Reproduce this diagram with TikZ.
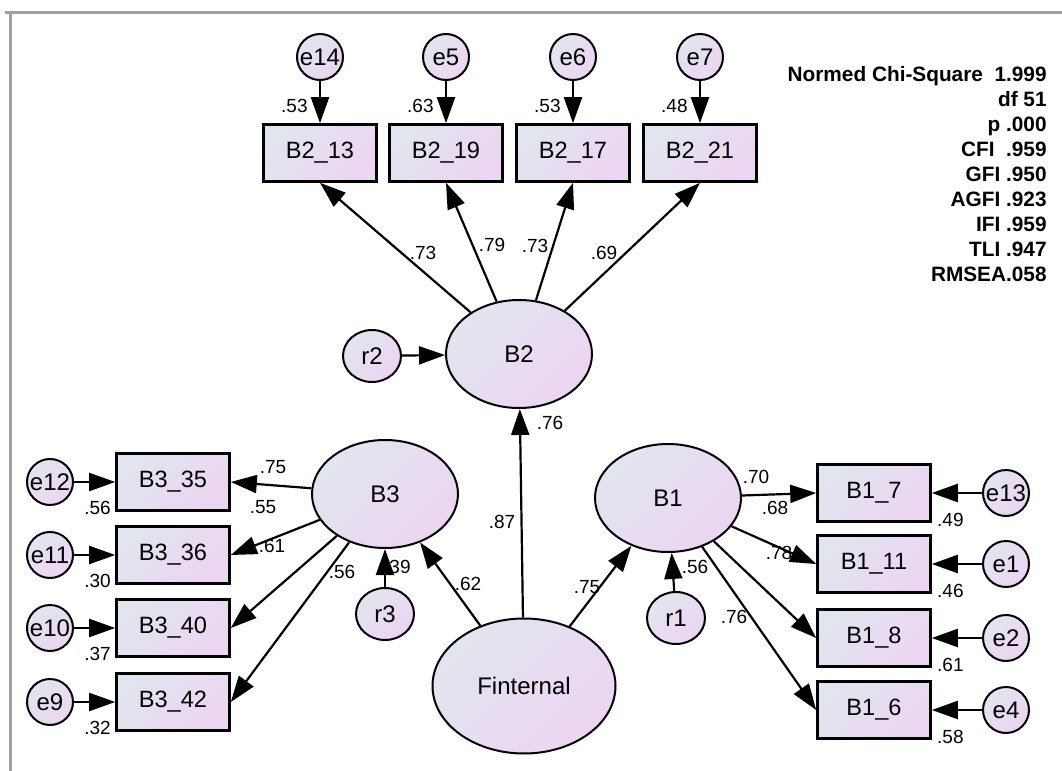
\documentclass[tikz,border=0pt]{standalone}
\usepackage{fontspec}
\setmainfont{Liberation Sans}
\usepackage{tikz}
\usetikzlibrary{arrows.meta, shapes.geometric}

\definecolor{shadeA}{RGB}{225,229,238}
\definecolor{shadeB}{RGB}{236,213,242}
\definecolor{framegray}{RGB}{160,160,160}

\begin{document}
\begin{tikzpicture}[x=0.5pt, y=-0.5pt,
    lat/.style={ellipse, draw, line width=1pt, inner sep=0pt, minimum width=73pt, minimum height=54pt,
        top color=shadeA, bottom color=shadeB, shading angle=45, font=\fontsize{12}{14}\selectfont},
    obs/.style={rectangle, draw, line width=1.3pt, inner sep=0pt, minimum width=56.5pt, minimum height=28.5pt,
        top color=shadeA, bottom color=shadeB, shading angle=45, font=\fontsize{11.8}{14}\selectfont},
    err/.style={circle, draw, line width=1pt, inner sep=0pt, minimum size=23pt,
        top color=shadeA, bottom color=shadeB, shading angle=45, font=\fontsize{12}{14}\selectfont},
    res/.style={ellipse, draw, line width=1pt, inner sep=0pt, minimum width=29pt, minimum height=26pt,
        top color=shadeA, bottom color=shadeB, shading angle=45, font=\fontsize{12}{14}\selectfont},
    path/.style={-{Triangle[length=13pt,width=9pt]}, line width=1.1pt},
    wt/.style={inner sep=0pt, font=\fontsize{9.5}{11}\selectfont},
    fitstat/.style={inner sep=0pt, anchor=base east, font=\fontsize{10.4}{12}\selectfont\bfseries},
    frame/.style={draw=framegray, line width=1.5pt}
]
    \useasboundingbox (0,0) rectangle (1062,771);
    \draw[frame] (5,12) -- (1062,12);
    \draw[frame] (10,12) -- (10,771);

    % latent variables
    \node[lat] (B2) at (519,354) {B2};
    \node[lat] (B3) at (385,494) {B3};
    \node[lat] (B1) at (668,498) {B1};
    \node[lat, minimum width=91.5pt, minimum height=67.5pt] (Fint) at (524,686) {Finternal};

    % residuals
    \node[res] (r2) at (372,356) {r2};
    \node[res] (r3) at (385,614) {r3};
    \node[res] (r1) at (676,618) {r1};

    % B2 indicators
    \foreach \id/\er/\x/\val in {13/14/320/.53, 19/5/446/.63, 17/6/573/.53, 21/7/700/.48} {
        \node[obs] (b2\id) at (\x,153) {B2\_\id};
        \node[err] (e\er) at (\x,57) {e\er};
        \node[wt, anchor=east] (v\er) at ([xshift=-6pt,yshift=8.5pt]b2\id.north) {\val};
        \draw[path] (e\er) -- (b2\id);
        \draw[path] (B2) -- (b2\id.south);
    }

    % B3 indicators
    \foreach \id/\er/\y/\val in {35/12/482/.56, 36/11/555/.30, 40/10/628/.37, 42/9/702/.32} {
        \node[obs] (b3\id) at (173,\y) {B3\_\id};
        \node[err] (e\er) at (50,\y) {e\er};
        \node[wt, anchor=east] (v\er) at ([xshift=-2pt,yshift=2pt]b3\id.south west) {\val};
        \draw[path] (e\er) -- (b3\id);
        \draw[path] (B3) -- (b3\id.east);
    }

    % B1 indicators
    \foreach \id/\er/\y/\val in {7/13/493/.49, 11/1/564/.46, 8/2/638/.61, 6/4/710/.58} {
        \node[obs] (b1\id) at (874,\y) {B1\_\id};
        \node[err] (e\er) at (1006,\y) {e\er};
        \node[wt, anchor=west] (v\er) at ([xshift=2.5pt,yshift=1.5pt]b1\id.south east) {\val};
        \draw[path] (e\er) -- (b1\id);
        \draw[path] (B1) -- (b1\id.west);
    }

    % structural weights
    \node[wt] (w1) at (423,253) {.73};
    \node[wt] (w2) at (492,245) {.79};
    \node[wt] (w3) at (535,246) {.73};
    \node[wt] (w4) at (604,253) {.69};
    \node[wt] (w5) at (550,423) {.76};
    \node[wt] (w6) at (502,522) {.87};
    \node[wt] (w7) at (468,584) {.62};
    \node[wt] (w8) at (587,587) {.75};
    \node[wt, anchor=east] (w9) at (411,567) {.39};
    \node[wt] (w10) at (695,567) {.56};
    \node[wt] (w11) at (273,467) {.75};
    \node[wt] (w12) at (263,507) {.55};
    \node[wt] (w13) at (272,546) {.61};
    \node[wt] (w14) at (342,572) {.56};
    \node[wt] (w15) at (756,477) {.70};
    \node[wt] (w16) at (775,508) {.68};
    \node[wt] (w17) at (779,553) {.78};
    \node[wt] (w18) at (734,617) {.76};

    \draw[path] (r2) -- (B2);
    \draw[path] (r3) -- (B3);
    \draw[path] (r1) -- (B1);
    \draw[path] (Fint) -- (B2);
    \draw[path] (Fint) -- (B3);
    \draw[path] (Fint) -- (B1);

    % fit indices
    \foreach \txt [count=\k from 0] in {Normed Chi-Square~~1.999, df 51, p .000, CFI~~.959, GFI .950,
            AGFI .923, IFI .959, TLI .947, RMSEA.058}
        \node[fitstat] (s\k) at (1047,{81+25*\k}) {\txt};
\end{tikzpicture}
\end{document}
